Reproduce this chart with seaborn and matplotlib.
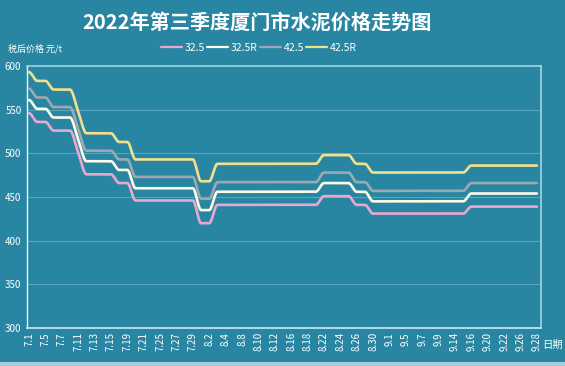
import numpy as np
import pandas as pd
import matplotlib
matplotlib.use("Agg")
import matplotlib.pyplot as plt
import seaborn as sns
from matplotlib.patches import Rectangle

dates = ["7.1", "7.4", "7.5", "7.6", "7.7", "7.8", "7.11", "7.12", "7.13", "7.14", "7.15",
         "7.18", "7.19", "7.20", "7.21", "7.22", "7.25", "7.26", "7.27", "7.28", "7.29",
         "8.1", "8.2", "8.3", "8.4", "8.5", "8.8", "8.9", "8.10", "8.11", "8.12",
         "8.15", "8.16", "8.17", "8.18", "8.19", "8.22", "8.23", "8.24", "8.25", "8.26",
         "8.29", "8.30", "8.31", "9.1", "9.2", "9.5", "9.6", "9.7", "9.8", "9.9",
         "9.13", "9.14", "9.15", "9.16", "9.19", "9.20", "9.21", "9.22", "9.23",
         "9.26", "9.27", "9.28"]

p325 = [546, 536, 536, 526, 526, 526, 501, 476, 476, 476, 476, 466, 466,
        446, 446, 446, 446, 446, 446, 446, 446, 420, 420,
        441, 441, 441, 441, 441, 441, 441, 441, 441, 441, 441, 441, 441,
        451, 451, 451, 451, 441, 441,
        431, 431, 431, 431, 431, 431, 431, 431, 431, 431, 431, 431,
        439, 439, 439, 439, 439, 439, 439, 439, 439]

p325r = [561, 551, 551, 541, 541, 541, 516, 491, 491, 491, 491, 481, 481,
         460, 460, 460, 460, 460, 460, 460, 460, 435, 435,
         456, 456, 456, 456, 456, 456, 456, 456, 456, 456, 456, 456, 456,
         466, 466, 466, 466, 456, 456,
         445, 445, 445, 445, 445, 445, 445, 445, 445, 445, 445, 445,
         454, 454, 454, 454, 454, 454, 454, 454, 454]

p425 = [574, 564, 564, 553, 553, 553, 528, 503, 503, 503, 503, 493, 493,
        473, 473, 473, 473, 473, 473, 473, 473, 448, 448,
        467, 467, 467, 467, 467, 467, 467, 467, 467, 467, 467, 467, 467,
        478, 478, 478, 478, 467, 467,
        457, 457, 457, 457, 457, 457, 457, 457, 457, 457, 457, 457,
        466, 466, 466, 466, 466, 466, 466, 466, 466]

p425r = [593, 583, 583, 573, 573, 573, 548, 523, 523, 523, 523, 513, 513,
         493, 493, 493, 493, 493, 493, 493, 493, 468, 468,
         488, 488, 488, 488, 488, 488, 488, 488, 488, 488, 488, 488, 488,
         498, 498, 498, 498, 488, 488,
         478, 478, 478, 478, 478, 478, 478, 478, 478, 478, 478, 478,
         486, 486, 486, 486, 486, 486, 486, 486, 486]

series_names = ["32.5", "32.5R", "42.5", "42.5R"]
series_vals = [p325, p325r, p425, p425r]
colors = ["#eba7d0", "#fbfbe6", "#9ea8b2", "#f3df8c"]

BG = "#2886a3"


def smooth_path(y, n=16):
    """Monotone cubic Hermite rendering of the line between data points."""
    y = np.asarray(y, float)
    x = np.arange(len(y), dtype=float)
    d = np.diff(y)
    m = np.zeros_like(y)
    for i in range(1, len(y) - 1):
        if d[i - 1] * d[i] > 0:
            m[i] = 2 / (1 / d[i - 1] + 1 / d[i])
    xs, ys = [], []
    for i in range(len(y) - 1):
        t = np.linspace(0, 1, n, endpoint=False)
        h00 = 2 * t**3 - 3 * t**2 + 1
        h10 = t**3 - 2 * t**2 + t
        h01 = -2 * t**3 + 3 * t**2
        h11 = t**3 - t**2
        xs.append(x[i] + t)
        ys.append(h00 * y[i] + h10 * m[i] + h01 * y[i + 1] + h11 * m[i + 1])
    xs.append([x[-1]])
    ys.append([y[-1]])
    return np.concatenate(xs), np.concatenate(ys)


rows = []
for name, vals in zip(series_names, series_vals):
    xs, ys = smooth_path(vals)
    rows.append(pd.DataFrame({"x": xs, "y": ys, "series": name}))
df = pd.concat(rows, ignore_index=True)

sns.set_theme(style="white")
plt.rcParams["font.family"] = ["Noto Sans CJK SC", "DejaVu Sans"]

fig = plt.figure(figsize=(5.65, 3.66), dpi=100, facecolor=BG)
ax = fig.add_axes([27 / 565, 1 - 328 / 366, (541 - 27) / 565, (328 - 66) / 366])
ax.set_facecolor(BG)

sns.lineplot(data=df, x="x", y="y", hue="series", hue_order=series_names,
             palette=dict(zip(series_names, colors)), sort=False, estimator=None,
             linewidth=1.9, ax=ax, legend=True, zorder=3)

ax.set_xlim(-0.25, 62.5)
ax.set_ylim(300, 600)
ax.set_yticks(np.arange(300, 601, 50))
for v in range(350, 600, 50):
    ax.axhline(v, color="#58a6bd", lw=0.8, zorder=1)

ax.set_xticks(range(0, len(dates), 2))
ax.set_xticklabels(dates[::2], rotation=90, fontsize=7, color="white")
ax.tick_params(axis="x", length=0, pad=3)
ax.tick_params(axis="y", length=0, pad=4, labelsize=7, labelcolor="white")
ax.set_xlabel("")
ax.set_ylabel("")

for s in ["top", "right"]:
    ax.spines[s].set_color("#a9d3df")
    ax.spines[s].set_linewidth(1.2)
ax.spines["left"].set_color("#eef7fa")
ax.spines["left"].set_linewidth(1.0)
ax.spines["bottom"].set_color("#b8dce7")
ax.spines["bottom"].set_linewidth(1.4)

handles, labels = ax.get_legend_handles_labels()
for h in handles:
    h.set_linewidth(1.6)
ax.legend(handles, labels, loc="center", bbox_to_anchor=(259 / 565, 1 - 48 / 366),
          bbox_transform=fig.transFigure, ncol=4, frameon=False, fontsize=7.5,
          labelcolor="white", handlelength=2.0, handletextpad=0.3,
          columnspacing=0.2, borderpad=0)

fig.text(257 / 565, 1 - 22 / 366, "2022年第三季度厦门市水泥价格走势图", ha="center",
         va="center", fontsize=14.5, fontweight="bold", color="white")
fig.text(8 / 565, 1 - 49 / 366, "税后价格 元/t", ha="left", va="center",
         fontsize=6.5, color="white")
fig.text(553 / 565, 1 - 345 / 366, "日期", ha="center", va="center",
         fontsize=7.5, color="white")

fig.patches.append(Rectangle((0, 0), 1, 4 / 366, transform=fig.transFigure,
                             facecolor="#a6cfdc", edgecolor="none", zorder=0))

fig.savefig("out.png", dpi=100, facecolor=BG)
